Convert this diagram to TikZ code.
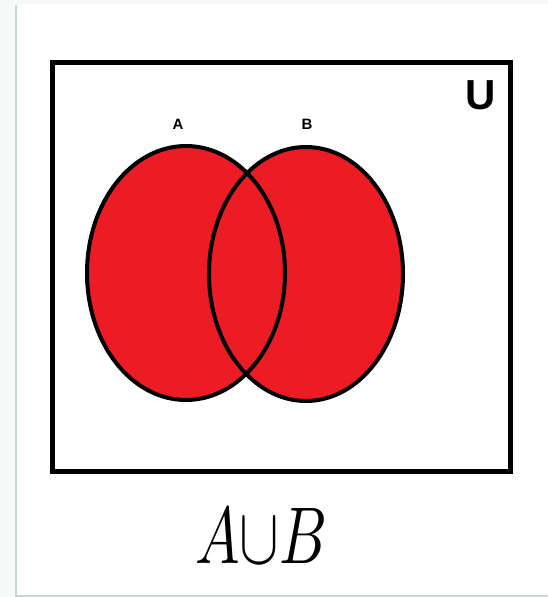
\documentclass[tikz,border=0pt]{standalone}
\usepackage{fontspec}
\usepackage{graphicx}
\newfontfamily\labelfont{Liberation Sans}
\definecolor{setred}{RGB}{237,28,36}
\definecolor{cardline}{RGB}{196,216,212}
\definecolor{outside}{RGB}{247,248,248}
\tikzset{
  setfill/.style={fill=setred},
  setline/.style={draw=black, line width=4pt},
  setlabel/.style={font=\labelfont\bfseries\fontsize{15}{15}\selectfont, inner sep=0pt},
}
\begin{document}
\begin{tikzpicture}[x=1pt,y=-1pt]
  \useasboundingbox (0,0) rectangle (548,597);
  \fill[white] (0,0) rectangle (548,597);
  % card edge
  \fill[outside] (0,0) rectangle (15,597);
  \fill[outside] (0,0) rectangle (548,4);
  \draw[cardline, line width=2pt] (16,5) -- (16,595.5) -- (548,595.5);
  % universe
  \draw[line width=5pt] (52.5,62.5) rectangle (510.5,471);
  \node[font=\labelfont\bfseries\fontsize{42}{42}\selectfont, inner sep=0pt] (U) at (480.5,95) {U};
  % sets
  \fill[setfill] (186,273) ellipse [x radius=99, y radius=127];
  \fill[setfill] (306,274) ellipse [x radius=97, y radius=127];
  \draw[setline] (186,273) ellipse [x radius=99, y radius=127];
  \draw[setline] (306,274) ellipse [x radius=97, y radius=127];
  \node[setlabel] (labA) at (178,124) {A};
  \node[setlabel] (labB) at (307,124) {B};
  % caption
  \node[anchor=base west, inner sep=0pt] (cap) at (195,563) {\resizebox{132pt}{55pt}{$A{\cup}B$}};
\end{tikzpicture}
\end{document}
